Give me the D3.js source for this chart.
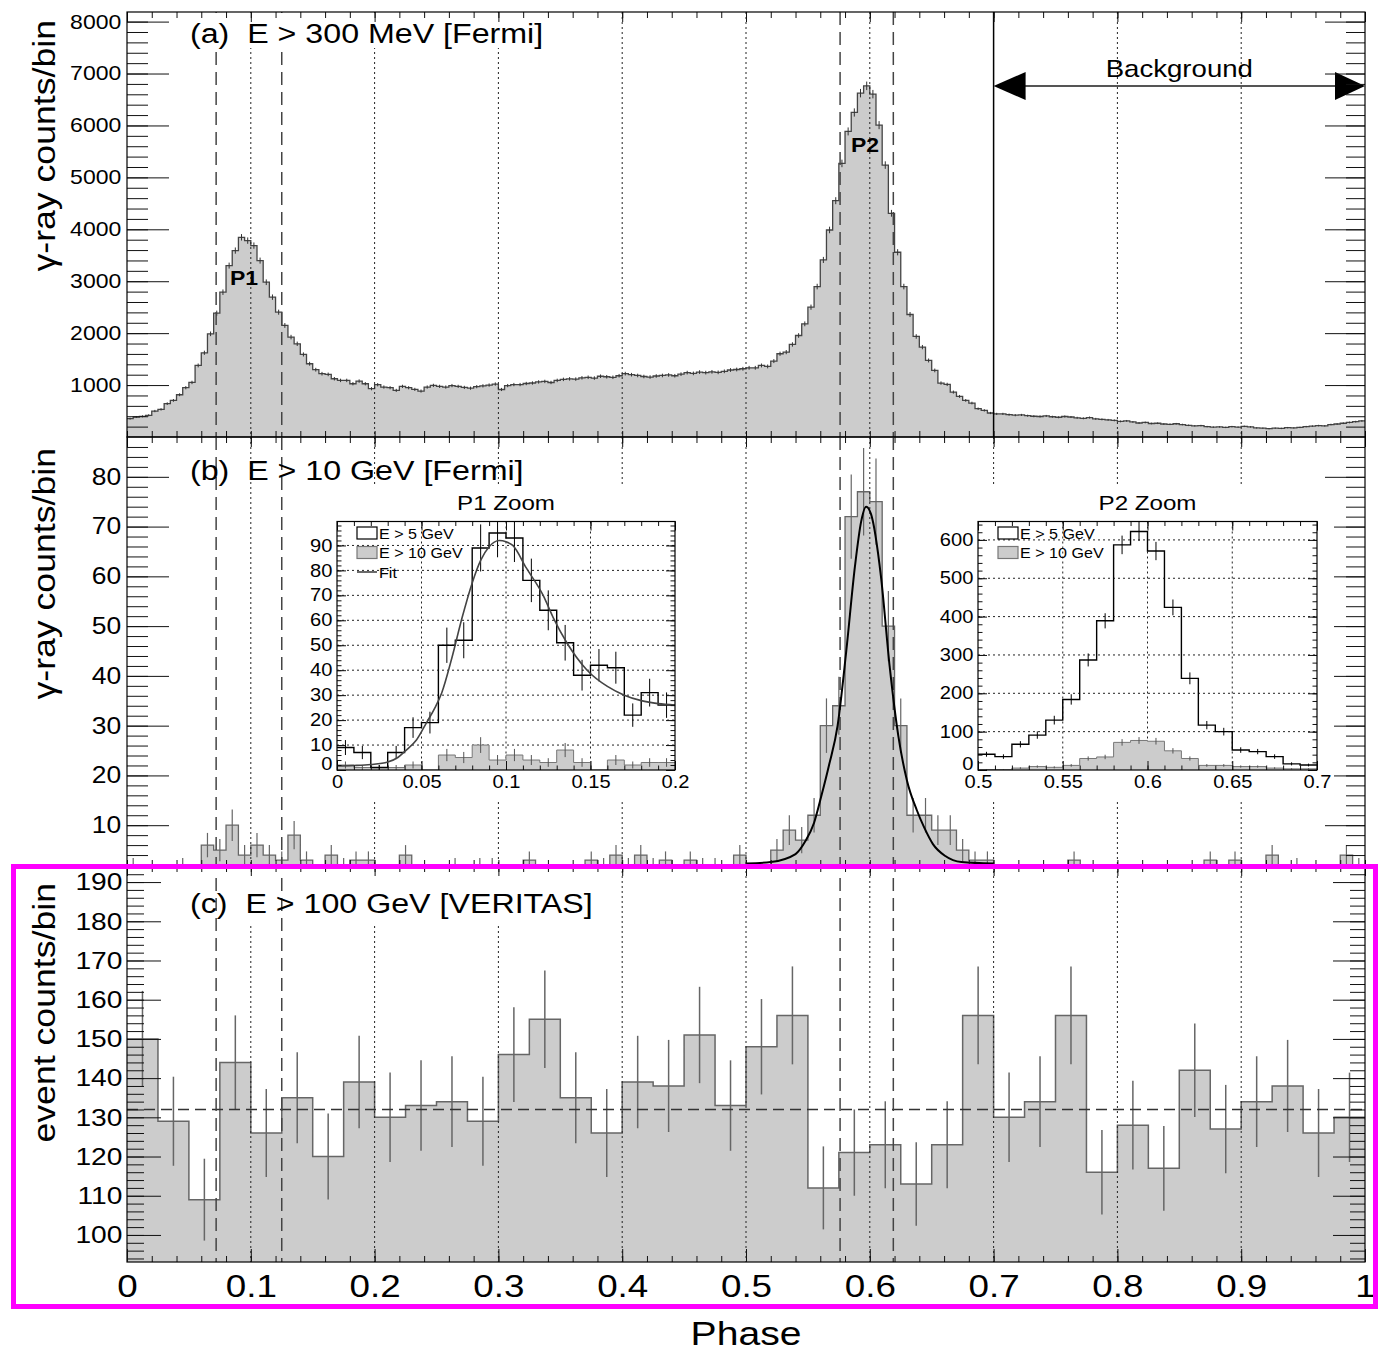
<!DOCTYPE html>
<html>
<head>
<meta charset="utf-8">
<title>Phaseograms</title>
<script src="https://cdn.jsdelivr.net/npm/d3@7"></script>
<style>
  body { margin: 0; background: #fff; }
  svg text { white-space: pre; }
</style>
</head>
<body>
<div id="chart"></div>
<script>
// ---- values ----
// (a) E > 300 MeV, 200 bins of 0.005 in phase
const fermi300Counts = [
  353, 385, 398, 417, 500, 532, 642, 705, 814, 949,
  1051, 1378, 1622, 1987, 2385, 2789, 3301, 3590, 3846, 3782,
  3686, 3397, 2981, 2693, 2404, 2148, 1924, 1795, 1590, 1411,
  1296, 1219, 1206, 1122, 1090, 1090, 1026, 1077, 1026, 930,
  1007, 962, 949, 898, 975, 949, 917, 885, 962, 994,
  975, 962, 990, 975, 955, 940, 970, 985, 1000, 1020,
  915, 990, 1010, 1010, 1030, 1040, 1060, 1070, 1050, 1090,
  1110, 1120, 1115, 1140, 1150, 1135, 1170, 1160, 1150, 1180,
  1220, 1200, 1185, 1165, 1155, 1175, 1185, 1195, 1180, 1210,
  1240, 1225, 1250, 1240, 1255, 1245, 1265, 1290, 1300, 1314,
  1333, 1333, 1378, 1359, 1462, 1603, 1635, 1782, 1955, 2179,
  2500, 2897, 3410, 3987, 4551, 5269, 5885, 6250, 6622, 6763,
  6603, 6006, 5237, 4308, 3558, 2897, 2359, 1936, 1731, 1474,
  1282, 1039, 1013, 865, 782, 705, 654, 545, 513, 462,
  445, 445, 430, 420, 425, 410, 400, 395, 405, 390,
  380, 395, 385, 370, 360, 375, 350, 340, 330, 320,
  300, 310, 290, 270, 280, 260, 265, 250, 245, 255,
  240, 225, 215, 220, 200, 190, 195, 185, 200, 190,
  205, 195, 175, 170, 160, 170, 165, 180, 175, 185,
  200, 210, 220, 215, 240, 250, 265, 280, 295, 310
];
// (b) E > 10 GeV, 100 bins of 0.01
const fermi10Counts = [
  2, 1, 1, 1, 2, 0, 6, 5, 10, 4,
  6, 4, 3, 8, 3, 0, 4, 2, 3, 3,
  1, 0, 4, 0, 0, 0, 2, 0, 2, 2,
  1, 0, 3, 0, 1, 0, 0, 3, 2, 4,
  2, 4, 2, 3, 1, 3, 2, 2, 0, 4,
  1, 1, 5, 9, 7, 12, 30, 34, 72, 77,
  75, 50, 30, 12, 12, 9, 9, 5, 3, 3,
  1, 0, 0, 0, 0, 0, 3, 0, 0, 0,
  0, 0, 1, 0, 0, 0, 0, 3, 0, 3,
  0, 0, 4, 0, 2, 0, 0, 0, 4, 2
];
// (c) E > 100 GeV, 40 bins of 0.025
const veritasCounts = [
  150, 129, 109, 144, 126, 135, 120, 139, 130, 133,
  134, 129, 146, 155, 135, 126, 139, 138, 151, 133,
  148, 156, 112, 121, 123, 113, 123, 156, 130, 134,
  156, 116, 128, 117, 142, 127, 134, 138, 126, 130
];
const veritasMean = 132;

// insets, E > 5 GeV, 20 bins of 0.01
const p1Above5GeV = [9, 7, 1, 7, 17, 19, 50, 52, 89, 95, 93, 76, 64, 51, 38, 42, 41, 22, 31, 26];
const p2Above5GeV = [41, 35, 67, 91, 130, 184, 287, 389, 587, 622, 571, 424, 239, 117, 100, 52, 48, 35, 16, 13];

// fit curves sampled from the figure
const p1FitPhase  = [0, 0.01, 0.02, 0.03, 0.036, 0.041, 0.047, 0.053, 0.058, 0.062, 0.068, 0.074, 0.08, 0.085, 0.09, 0.096, 0.1, 0.104, 0.112, 0.122, 0.128, 0.136, 0.148, 0.16, 0.17, 0.18, 0.19, 0.2];
const p1FitCounts = [1.6, 1.8, 2.2, 3.2, 5, 8, 12, 19, 25, 31, 45, 61, 75, 84, 89.5, 92, 91.5, 90, 81, 70, 61, 51, 40, 33.5, 30, 27.8, 26.6, 26];
const p2FitPhase  = [0.5, 0.52, 0.54, 0.548, 0.555, 0.561, 0.567, 0.574, 0.581, 0.588, 0.593, 0.597, 0.601, 0.609, 0.616, 0.623, 0.63, 0.638, 0.644, 0.651, 0.661, 0.674, 0.7];
const p2FitCounts = [2.3, 2.6, 4.2, 6.8, 10.5, 16, 22, 30, 45, 62, 71, 74, 72.5, 60, 42, 28, 19, 13, 9.5, 6.2, 3.8, 2.6, 2.3];

const gridPhases = [0.1, 0.2, 0.3, 0.4, 0.5, 0.6, 0.7, 0.8, 0.9];
const peakWindows = [0.072, 0.125, 0.576, 0.619];
const backgroundStart = 0.7;

// ---- layout ----
const W = 1378, H = 1353;
const FONT = "'Liberation Sans', Arial, Helvetica, sans-serif";
const SX = 1.15;          // the source figure has slightly wide lettering
const GRAY = "#cccccc";

const svg = d3.select("#chart").append("svg")
  .attr("width", W).attr("height", H)
  .attr("font-family", FONT);
svg.append("rect").attr("width", W).attr("height", H).attr("fill", "#fff");

const x = d3.scaleLinear().domain([0, 1]).range([127, 1365]);
const ya = d3.scaleLinear().domain([0, 8185]).range([437, 12]);
const yb = d3.scaleLinear().domain([1.8, 88]).range([866, 437]);
const yc = d3.scaleLinear().domain([93.1, 194.1]).range([1262, 866]);

const xMajor = d3.range(0, 11).map(i => i / 10);
const xMinor = d3.range(0, 51).map(i => i / 50);

// ---- helpers ----
function label(g, str, px, py, size, o = {}) {
  return g.append("text")
    .attr("transform", `translate(${px},${py})${o.rotate ? ` rotate(${o.rotate})` : ""} scale(${SX},1)`)
    .attr("font-size", size)
    .attr("text-anchor", o.anchor || "start")
    .attr("font-weight", o.weight || "normal")
    .attr("fill", "#000")
    .text(str);
}

function histPath(values, lo, bin, xs, ys, base) {
  const p = d3.path();
  p.moveTo(xs(lo), base != null ? base : ys(values[0]));
  values.forEach((v, i) => {
    p.lineTo(xs(lo + i * bin), ys(v));
    p.lineTo(xs(lo + (i + 1) * bin), ys(v));
  });
  if (base != null) {
    p.lineTo(xs(lo + values.length * bin), base);
    p.closePath();
  }
  return p.toString();
}

function drawHist(g, values, lo, bin, xs, ys, o) {
  const base = ys.range()[0];
  if (o.fill) {
    g.append("path").attr("d", histPath(values, lo, bin, xs, ys, base)).attr("fill", o.fill);
  }
  g.append("path").attr("d", histPath(values, lo, bin, xs, ys, null))
    .attr("fill", "none").attr("stroke", o.stroke).attr("stroke-width", o.sw);
  if (o.err) {
    const ymin = ys.domain()[0];
    g.append("g").selectAll("line")
      .data(values.map((v, i) => ({ v, c: lo + (i + 0.5) * bin })).filter(d => d.v > 0))
      .join("line")
      .attr("x1", d => xs(d.c)).attr("x2", d => xs(d.c))
      .attr("y1", d => ys(d.v + Math.sqrt(d.v)))
      .attr("y2", d => ys(Math.max(d.v - Math.sqrt(d.v), ymin)))
      .attr("stroke", o.err).attr("stroke-width", o.errW || 1);
  }
}

function ticks(g, axisFn, scale, transform, values, len, lab) {
  const a = axisFn(scale).tickValues(values).tickSize(-len);
  if (lab) a.tickPadding(lab.pad).tickFormat(lab.fmt); else a.tickFormat("");
  const s = g.append("g").attr("transform", transform).call(a);
  s.select(".domain").remove();
  s.selectAll(".tick line").attr("stroke", "#111");
  if (lab) {
    s.attr("font-family", FONT).attr("font-size", lab.size);
    s.selectAll("text").attr("fill", "#000").attr("transform", `scale(${SX},1)`);
  }
  return s;
}

function vlines(g, phases, top, bottom, dash, color, w) {
  g.append("g").selectAll("line").data(phases).join("line")
    .attr("x1", d => x(d)).attr("x2", d => x(d))
    .attr("y1", top).attr("y2", bottom)
    .attr("stroke", color).attr("stroke-width", w)
    .attr("stroke-dasharray", dash);
}

function panelAxes(g, ys, top, bottom, yMaj, yMin, lens, lab) {
  ticks(g, d3.axisLeft, ys, "translate(127,0)", yMin, lens[1]);
  ticks(g, d3.axisLeft, ys, "translate(127,0)", yMaj, lens[0], lab);
  ticks(g, d3.axisRight, ys, "translate(1365,0)", yMin, lens[1] - 2);
  ticks(g, d3.axisRight, ys, "translate(1365,0)", yMaj, lens[0] - 2);
  ticks(g, d3.axisTop, x, `translate(0,${top})`, xMinor, 6);
  ticks(g, d3.axisTop, x, `translate(0,${top})`, xMajor, 10);
  ticks(g, d3.axisBottom, x, `translate(0,${bottom})`, xMinor, 6);
  g.append("rect").attr("x", 127).attr("y", top).attr("width", 1238).attr("height", bottom - top)
    .attr("fill", "none").attr("stroke", "#000").attr("stroke-width", 1.2);
}

const fmtInt = d3.format("d");

// ---- panel (a) ----
const ga = svg.append("g");
drawHist(ga, fermi300Counts, 0, 0.005, x, ya, { fill: GRAY, stroke: "#444", sw: 1.3, err: "#333", errW: 1 });
vlines(ga, gridPhases.filter(p => p !== backgroundStart), 12, 437, "2,3", "#222", 1);
vlines(ga, [backgroundStart], 12, 437, null, "#000", 1.5);
vlines(ga, peakWindows, 12, 437, "13,7", "#444", 1.5);
ga.append("rect").attr("x", 178).attr("y", 13).attr("width", 385).attr("height", 35).attr("fill", "#fff");
label(ga, "(a)  E > 300 MeV [Fermi]", 190, 43, 28);
label(ga, "P1", 244, 285, 20, { anchor: "middle", weight: "bold" });
label(ga, "P2", 865, 152, 20, { anchor: "middle", weight: "bold" });

// background arrow
const arrowY = 86;
ga.append("line").attr("x1", x(backgroundStart) + 20).attr("x2", x(1) - 20)
  .attr("y1", arrowY).attr("y2", arrowY).attr("stroke", "#555").attr("stroke-width", 2);
ga.append("path")
  .attr("d", `M${x(backgroundStart)},${arrowY}L${x(backgroundStart) + 32},${arrowY - 14}L${x(backgroundStart) + 32},${arrowY + 14}Z`)
  .attr("fill", "#000");
ga.append("path")
  .attr("d", `M${x(1)},${arrowY}L${x(1) - 30},${arrowY - 14}L${x(1) - 30},${arrowY + 14}Z`)
  .attr("fill", "#000");
label(ga, "Background", (x(backgroundStart) + x(1)) / 2, 77, 24, { anchor: "middle" });

panelAxes(ga, ya, 12, 437, d3.range(1000, 8001, 1000), d3.range(200, 8185, 200), [42, 21],
  { size: 20, pad: 5, fmt: fmtInt });
label(ga, "γ-ray counts/bin", 55, 20, 31, { rotate: -90, anchor: "end" });

// ---- panel (b) ----
const gb = svg.append("g");
gb.append("clipPath").attr("id", "clip-b").append("rect")
  .attr("x", 127).attr("y", 437).attr("width", 1238).attr("height", 429);
const gbc = gb.append("g").attr("clip-path", "url(#clip-b)");
drawHist(gbc, fermi10Counts, 0, 0.01, x, yb, { fill: GRAY, stroke: "#666", sw: 1.3, err: "#666", errW: 1.2 });
vlines(gbc, gridPhases, 437, 866, "2,3", "#222", 1);
vlines(gbc, peakWindows, 437, 866, "13,7", "#444", 1.5);
gbc.append("path")
  .attr("d", d3.line().x(d => x(d[0])).y(d => yb(d[1])).curve(d3.curveMonotoneX)(d3.zip(p2FitPhase, p2FitCounts)))
  .attr("fill", "none").attr("stroke", "#000").attr("stroke-width", 2);
label(gb, "(b)  E > 10 GeV [Fermi]", 190, 480, 28);
panelAxes(gb, yb, 437, 866, d3.range(10, 81, 10), d3.range(2, 88, 2), [42, 21],
  { size: 23, pad: 5, fmt: fmtInt });
label(gb, "γ-ray counts/bin", 55, 448, 31, { rotate: -90, anchor: "end" });

// ---- insets ----
const insets = [
  {
    pad: [296, 487, 394, 314], frame: [337, 675, 521.5, 770],
    xDomain: [0, 0.2], yDomain: [0, 99.6], lo: 0,
    xMajor: d3.range(0, 5).map(i => i * 0.05), xMinor: d3.range(0, 21).map(i => i / 100),
    yMajor: d3.range(0, 91, 10), yMinor: d3.range(0, 99, 2),
    above5: p1Above5GeV, above10: fermi10Counts.slice(0, 20),
    fit: d3.zip(p1FitPhase, p1FitCounts), title: "P1 Zoom", legendX: 357
  },
  {
    pad: [930, 487, 404, 314], frame: [978, 1317, 521.5, 770],
    xDomain: [0.5, 0.7], yDomain: [0, 648], lo: 0.5,
    xMajor: d3.range(0, 5).map(i => 0.5 + i * 0.05), xMinor: d3.range(0, 21).map(i => 0.5 + i / 100),
    yMajor: d3.range(0, 601, 100), yMinor: d3.range(0, 648, 20),
    above5: p2Above5GeV, above10: fermi10Counts.slice(50, 70),
    fit: null, title: "P2 Zoom", legendX: 998
  }
];

insets.forEach((c, k) => {
  const g = svg.append("g");
  const [fx0, fx1, fy0, fy1] = c.frame;
  g.append("rect").attr("x", c.pad[0]).attr("y", c.pad[1]).attr("width", c.pad[2]).attr("height", c.pad[3]).attr("fill", "#fff");
  const xs = d3.scaleLinear().domain(c.xDomain).range([fx0, fx1]);
  const ys = d3.scaleLinear().domain(c.yDomain).range([fy1, fy0]);

  // grid
  g.append("g").selectAll("line").data(c.xMajor.slice(1, -1)).join("line")
    .attr("x1", d => xs(d)).attr("x2", d => xs(d)).attr("y1", fy0).attr("y2", fy1)
    .attr("stroke", "#222").attr("stroke-dasharray", "2,3");
  g.append("g").selectAll("line").data(c.yMajor.slice(1)).join("line")
    .attr("x1", fx0).attr("x2", fx1).attr("y1", d => ys(d)).attr("y2", d => ys(d))
    .attr("stroke", "#222").attr("stroke-dasharray", "2,3");

  const clipId = `clip-inset-${k}`;
  g.append("clipPath").attr("id", clipId).append("rect")
    .attr("x", fx0).attr("y", fy0).attr("width", fx1 - fx0).attr("height", fy1 - fy0);
  const gc = g.append("g").attr("clip-path", `url(#${clipId})`);
  drawHist(gc, c.above10, c.lo, 0.01, xs, ys, { fill: GRAY, stroke: "#777", sw: 1, err: "#555", errW: 1 });
  drawHist(gc, c.above5, c.lo, 0.01, xs, ys, { fill: null, stroke: "#000", sw: 1.4, err: "#000", errW: 1 });
  if (c.fit) {
    gc.append("path")
      .attr("d", d3.line().x(d => xs(d[0])).y(d => ys(d[1])).curve(d3.curveMonotoneX)(c.fit))
      .attr("fill", "none").attr("stroke", "#444").attr("stroke-width", 1.6);
  }

  // ticks
  ticks(g, d3.axisLeft, ys, `translate(${fx0},0)`, c.yMinor, 4.5);
  const yl = ticks(g, d3.axisLeft, ys, `translate(${fx0},0)`, c.yMajor, 9, { size: 17.5, pad: 4, fmt: fmtInt });
  // ROOT lifts the lowest y label clear of the x labels
  yl.selectAll(".tick").filter(d => d === 0).select("text").attr("dy", "-0.05em");
  ticks(g, d3.axisRight, ys, `translate(${fx1},0)`, c.yMinor, 4.5);
  ticks(g, d3.axisRight, ys, `translate(${fx1},0)`, c.yMajor, 9);
  ticks(g, d3.axisBottom, xs, `translate(0,${fy1})`, c.xMinor, 4.5);
  ticks(g, d3.axisBottom, xs, `translate(0,${fy1})`, c.xMajor, 9, { size: 17.5, pad: 5.5, fmt: d3.format("~g") });
  ticks(g, d3.axisTop, xs, `translate(0,${fy0})`, c.xMinor, 4.5);
  ticks(g, d3.axisTop, xs, `translate(0,${fy0})`, c.xMajor, 9);
  g.append("rect").attr("x", fx0).attr("y", fy0).attr("width", fx1 - fx0).attr("height", fy1 - fy0)
    .attr("fill", "none").attr("stroke", "#000").attr("stroke-width", 1.2);

  label(g, c.title, (fx0 + fx1) / 2, 510, 21, { anchor: "middle" });

  // legend
  const rows = [
    { text: "E > 5 GeV", kind: "open" },
    { text: "E > 10 GeV", kind: "filled" }
  ];
  if (c.fit) rows.push({ text: "Fit", kind: "line" });
  rows.forEach((r, i) => {
    const ry = 533 + i * 19.5;
    if (r.kind === "line") {
      g.append("line").attr("x1", c.legendX).attr("x2", c.legendX + 20).attr("y1", ry).attr("y2", ry)
        .attr("stroke", "#444").attr("stroke-width", 1.6);
    } else {
      g.append("rect").attr("x", c.legendX).attr("y", ry - 6).attr("width", 20).attr("height", 12)
        .attr("fill", r.kind === "filled" ? GRAY : "#fff")
        .attr("stroke", r.kind === "filled" ? "#777" : "#000").attr("stroke-width", 1.2);
    }
    label(g, r.text, c.legendX + 22, ry + 5.5, 14);
  });
});

// ---- panel (c) ----
const gcP = svg.append("g");
drawHist(gcP, veritasCounts, 0, 0.025, x, yc, { fill: GRAY, stroke: "#666", sw: 1.5, err: "#666", errW: 1.5 });
vlines(gcP, gridPhases, 866, 1262, "2,3", "#222", 1);
gcP.append("line").attr("x1", x(0)).attr("x2", x(1)).attr("y1", yc(veritasMean)).attr("y2", yc(veritasMean))
  .attr("stroke", "#333").attr("stroke-width", 1.5).attr("stroke-dasharray", "11,6");
gcP.append("rect").attr("x", 178).attr("y", 867).attr("width", 425).attr("height", 56).attr("fill", "#fff");
vlines(gcP, peakWindows, 878, 1262, "13,7", "#444", 1.5);
label(gcP, "(c)  E > 100 GeV [VERITAS]", 190, 913, 28);
panelAxes(gcP, yc, 866, 1262, d3.range(100, 191, 10), d3.range(94, 194.1, 2), [34, 17],
  { size: 24.5, pad: 4, fmt: fmtInt });
ticks(gcP, d3.axisBottom, x, "translate(0,1262)", xMajor, 13, { size: 32, pad: 12, fmt: d3.format("~g") });
label(gcP, "event counts/bin", 55, 883, 31, { rotate: -90, anchor: "end" });
label(svg, "Phase", x(0.5), 1345, 34, { anchor: "middle" });

// highlight box around panel (c)
svg.append("rect").attr("x", 13.5).attr("y", 866.5).attr("width", 1362).attr("height", 440)
  .attr("fill", "none").attr("stroke", "#ff00ff").attr("stroke-width", 5);
</script>
</body>
</html>
